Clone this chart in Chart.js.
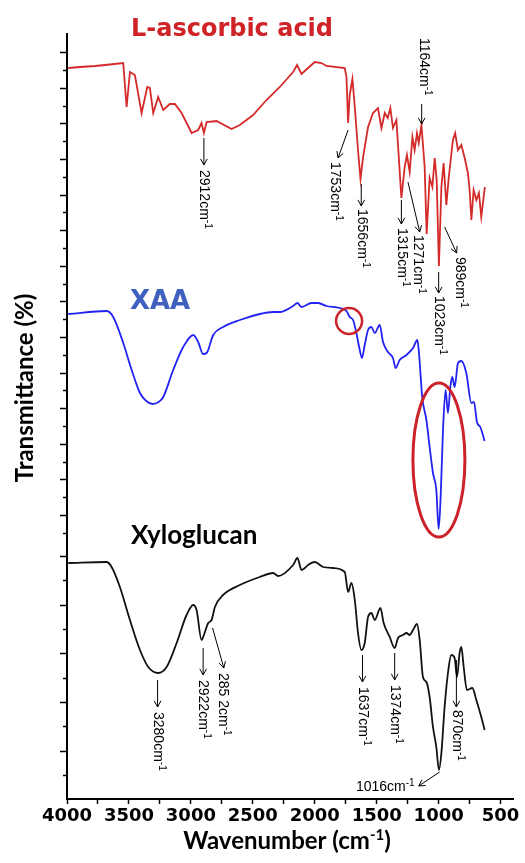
<!DOCTYPE html>
<html>
<head>
<meta charset="utf-8">
<title>FTIR spectra</title>
<script src="https://cdn.jsdelivr.net/npm/chart.js@4.4.1/dist/chart.umd.min.js"></script>
<style>
    body { margin: 0; background: #fff; }
    canvas { display: block; }
</style>
</head>
<body>
<canvas id="ftirChart" width="525" height="863"></canvas>
<script>
// Spectra: wavenumber (cm-1) and transmittance (stacked, arbitrary offset units)

// L-ascorbic acid (top, red)
const ascorbicWn = [3990, 3895, 3774, 3653, 3546, 3519, 3492, 3452, 3398, 3352, 3331, 3304, 3264, 3223, 3170, 3129, 3075, 2994, 2941, 2914,
    2895, 2873, 2793, 2672, 2605, 2498, 2390, 2282, 2175, 2143, 2107, 2054, 2000, 1946, 1906, 1758, 1744, 1731, 1718, 1696,
    1677, 1651, 1631, 1610, 1570, 1530, 1490, 1462, 1435, 1411, 1390, 1369, 1341, 1301, 1274, 1256, 1234, 1212, 1194, 1175,
    1161, 1139, 1113, 1097, 1073, 1051, 1032, 1016, 998, 978, 960, 938, 919, 885, 867, 844, 817, 790, 764, 750,
    736, 718, 696, 675, 656, 637, 627];
const ascorbicT = [731, 732, 733, 734.5, 736, 692, 727, 724, 686, 712, 711, 686, 702, 689, 695, 695, 686, 666, 669, 676,
    666, 677, 678, 670, 674, 684, 699, 712, 727, 734, 725, 731, 737, 736, 733, 731, 722, 676, 704, 720,
    692, 649, 620, 642, 672, 686, 691, 671, 686, 681, 691, 671, 679, 601, 632, 644, 627, 662, 649, 666,
    656, 674, 632, 565, 621, 612, 641, 619, 533, 612, 636, 594, 621, 659, 666, 649, 654, 641, 626, 609,
    579, 609, 599, 606, 582, 602, 612];

// XAA (middle, blue)
const xaaWn = [3990, 3680, 3627, 3546, 3478, 3411, 3360, 3310, 3260, 3223, 3143, 3062, 2981, 2941, 2901, 2873, 2820, 2740, 2605, 2444,
    2336, 2282, 2175, 2140, 2107, 2027, 1973, 1906, 1798, 1744, 1718, 1691, 1664, 1637, 1619, 1597, 1570, 1543, 1516, 1476,
    1449, 1409, 1369, 1347, 1315, 1260, 1207, 1172, 1159, 1132, 1099, 1073, 1046, 1019, 1000, 984, 965, 944, 925, 906,
    890, 871, 844, 817, 777, 736, 715, 691, 664, 629];
const xaaT = [485, 488, 482, 456, 429, 406, 398, 395, 397, 402, 429, 452, 464, 457, 445, 446, 464, 472, 479, 485,
    487, 487, 493, 496, 492, 496, 496, 493, 491, 488, 482, 479, 466, 449, 441, 454, 469, 472, 466, 474,
    457, 447, 441, 431, 439, 444, 451, 459, 446, 401, 379, 352, 326, 309, 270, 302, 369, 409, 386, 412,
    422, 412, 436, 438, 426, 396, 397, 377, 372, 358];

// Xyloglucan (bottom, black)
const xyloWn = [3990, 3680, 3640, 3573, 3492, 3411, 3344, 3264, 3196, 3115, 3035, 2981, 2954, 2914, 2895, 2860, 2833, 2806, 2740, 2605,
    2444, 2336, 2296, 2175, 2140, 2107, 2054, 2000, 1933, 1852, 1758, 1731, 1704, 1677, 1651, 1624, 1597, 1570, 1543, 1516,
    1470, 1444, 1395, 1355, 1328, 1288, 1260, 1234, 1207, 1175, 1153, 1127, 1099, 1073, 1046, 1019, 998, 978, 952, 925,
    898, 871, 852, 831, 817, 798, 772, 728, 696, 656, 629];
const xyloT = [236, 237, 232, 212, 179, 149, 132, 126, 132, 156, 184, 194, 189, 159, 164, 176, 179, 192, 204, 214,
    222, 226, 223, 234, 241, 229, 234, 237, 232, 231, 227, 207, 216, 199, 166, 149, 156, 182, 186, 179,
    191, 176, 162, 151, 161, 164, 166, 164, 169, 175, 159, 122, 117, 102, 72, 52, 29, 46, 92, 126,
    144, 141, 122, 146, 152, 132, 109, 111, 99, 82, 69];

const wavenumberTicks = [4000, 3750, 3500, 3250, 3000, 2750, 2500, 2250, 2000, 1750, 1500, 1250, 1000, 750, 500];

const seriesNames = ['L-ascorbic acid', 'XAA', 'Xyloglucan'];
const seriesColors = ['#d42a2a', '#2222f2', '#111111'];

// Peak labels: arrow tail, arrow head, text start -- as [wavenumber, transmittance]
const peakNotes = [
    { text: '2912', from: [2895, 661], to: [2895, 634], at: [2895, 629] },
    { text: '1753', from: [1731, 669], to: [1812, 641], at: [1839, 637] },
    { text: '1656', from: [1625, 615], to: [1625, 593], at: [1621, 590] },
    { text: '1315', from: [1301, 599], to: [1301, 575], at: [1298, 571] },
    { text: '1271', from: [1248, 617], to: [1153, 567], at: [1169, 564] },
    { text: '1164', from: [1137, 695], to: [1137, 675], at: [1121, 761] },
    { text: '1023', from: [1000, 527], to: [1000, 506], at: [1000, 503] },
    { text: '989', from: [952, 572], to: [855, 546], at: [831, 542] },
    { text: '3280', from: [3269, 119], to: [3269, 92], at: [3269, 87] },
    { text: '2922', from: [2901, 151], to: [2901, 124], at: [2901, 119] },
    { text: '285 2', from: [2825, 171], to: [2734, 131], at: [2742, 126] },
    { text: '1637', from: [1615, 144], to: [1615, 117], at: [1615, 112] },
    { text: '1374', from: [1355, 146], to: [1355, 119], at: [1355, 114] },
    { text: '870', from: [857, 139], to: [857, 92], at: [857, 89] },
    { text: '1016', from: [992, 27], to: [1161, 13], at: [1194, 12], flat: true }
];

function toPoints(wn, t) {
    return wn.map((w, i) => ({ x: w, y: t[i] }));
}

const NOTE_FONT = '14px "Liberation Sans", Arial, sans-serif';
const NOTE_SUP = '10px "Liberation Sans", Arial, sans-serif';

// "xxxxcm-1" with a raised -1; rotated labels read top to bottom
function drawPeakText(ctx, text, px, py, flat) {
    ctx.save();
    ctx.translate(px, py);
    if (!flat) ctx.rotate(Math.PI / 2);
    ctx.fillStyle = '#000';
    ctx.textBaseline = 'middle';
    ctx.textAlign = 'left';
    const main = text + 'cm';
    ctx.font = NOTE_FONT;
    const w = ctx.measureText(main).width;
    ctx.font = NOTE_SUP;
    const sw = ctx.measureText('-1').width;
    const x0 = flat ? -(w + sw) : 0;
    ctx.font = NOTE_FONT;
    ctx.fillText(main, x0, 0);
    ctx.font = NOTE_SUP;
    ctx.fillText('-1', x0 + w, -4);
    ctx.restore();
}

function drawArrow(ctx, x1, y1, x2, y2) {
    const ang = Math.atan2(y2 - y1, x2 - x1);
    const len = 7;
    ctx.beginPath();
    ctx.moveTo(x1, y1);
    ctx.lineTo(x2, y2);
    ctx.moveTo(x2 - len * Math.cos(ang - 0.5), y2 - len * Math.sin(ang - 0.5));
    ctx.lineTo(x2, y2);
    ctx.lineTo(x2 - len * Math.cos(ang + 0.5), y2 - len * Math.sin(ang + 0.5));
    ctx.stroke();
}

const decorPlugin = {
    id: 'ftirDecor',
    afterDraw(chart) {
        const { ctx, chartArea, scales: { x, y } } = chart;
        const px = (w) => x.getPixelForValue(w);
        const py = (t) => y.getPixelForValue(t);

        ctx.save();

        // y-axis tick marks, alternating long / short
        ctx.strokeStyle = '#000';
        ctx.lineWidth = 1.5;
        y.ticks.forEach((tk, i) => {
            const yy = Math.round(py(tk.value)) + 0.5;
            const len = i % 2 ? 7 : 4;
            ctx.beginPath();
            ctx.moveTo(chartArea.left - len, yy);
            ctx.lineTo(chartArea.left, yy);
            ctx.stroke();
        });

        // series names
        ctx.textAlign = 'left';
        ctx.textBaseline = 'alphabetic';
        ctx.fillStyle = '#cf2328';
        ctx.font = 'bold 24px "DejaVu Sans", sans-serif';
        ctx.fillText(seriesNames[0], px(3484), py(763));
        ctx.fillStyle = '#3f60bf';
        ctx.font = 'bold 26px "DejaVu Sans", sans-serif';
        ctx.fillText(seriesNames[1], px(3492), py(490));
        ctx.fillStyle = '#000';
        ctx.font = 'bold 26px Lato, sans-serif';
        ctx.fillText(seriesNames[2], px(3484), py(255));

        // red highlight circle and ellipse on the XAA trace
        ctx.strokeStyle = '#cc2229';
        ctx.lineWidth = 2.5;
        ctx.beginPath();
        ctx.arc(px(1723), py(478), 13, 0, Math.PI * 2);
        ctx.stroke();
        ctx.lineWidth = 3;
        ctx.beginPath();
        ctx.ellipse(px(998), py(339), 26, 77, 0, 0, Math.PI * 2);
        ctx.stroke();

        // peak arrows and labels
        ctx.strokeStyle = '#000';
        ctx.lineWidth = 1;
        peakNotes.forEach((n) => {
            drawArrow(ctx, px(n.from[0]), py(n.from[1]), px(n.to[0]), py(n.to[1]));
            drawPeakText(ctx, n.text, px(n.at[0]), py(n.at[1]), n.flat);
        });

        // axis titles
        ctx.fillStyle = '#000';
        ctx.save();
        ctx.translate(chartArea.left - 34, 388);
        ctx.rotate(-Math.PI / 2);
        ctx.textAlign = 'center';
        ctx.textBaseline = 'alphabetic';
        ctx.font = 'bold 24px Lato, sans-serif';
        ctx.fillText('Transmittance (%)', 0, 0);
        ctx.restore();

        const tFont = 'bold 24px Lato, sans-serif';
        const sFont = 'bold 15px Lato, sans-serif';
        ctx.font = tFont;
        const a = 'Wavenumber (cm';
        const wa = ctx.measureText(a).width;
        const wc = ctx.measureText(')').width;
        ctx.font = sFont;
        const wb = ctx.measureText('-1').width;
        const sx = 287 - (wa + wb + wc) / 2;
        const base = 849;
        ctx.textAlign = 'left';
        ctx.font = tFont;
        ctx.fillText(a, sx, base);
        ctx.font = sFont;
        ctx.fillText('-1', sx + wa, base - 9);
        ctx.font = tFont;
        ctx.fillText(')', sx + wa + wb, base);

        ctx.restore();
    }
};

const ctx = document.getElementById('ftirChart').getContext('2d');

const chart = new Chart(ctx, {
    type: 'line',
    data: {
        datasets: [
            {
                label: seriesNames[0],
                data: toPoints(ascorbicWn, ascorbicT),
                borderColor: seriesColors[0],
                borderWidth: 1.8,
                pointRadius: 0,
                tension: 0
            },
            {
                label: seriesNames[1],
                data: toPoints(xaaWn, xaaT),
                borderColor: seriesColors[1],
                borderWidth: 1.8,
                pointRadius: 0,
                cubicInterpolationMode: 'monotone'
            },
            {
                label: seriesNames[2],
                data: toPoints(xyloWn, xyloT),
                borderColor: seriesColors[2],
                borderWidth: 1.8,
                pointRadius: 0,
                cubicInterpolationMode: 'monotone'
            }
        ]
    },
    options: {
        responsive: false,
        animation: false,
        events: [],
        layout: { padding: { top: 34, right: 12, left: 0, bottom: 0 } },
        plugins: {
            legend: { display: false },
            tooltip: { enabled: false }
        },
        scales: {
            x: {
                type: 'linear',
                reverse: true,
                min: 400,
                max: 4000,
                afterBuildTicks: (scale) => {
                    scale.ticks = wavenumberTicks.map(v => ({ value: v }));
                },
                afterFit: (scale) => { scale.height = 64; },
                ticks: {
                    autoSkip: false,
                    maxRotation: 0,
                    padding: 2,
                    color: '#000',
                    font: { family: '"DejaVu Sans", sans-serif', size: 18, weight: 'bold' },
                    callback: (v) => (v % 500 === 0 ? String(v) : '')
                },
                grid: {
                    drawOnChartArea: false,
                    drawTicks: true,
                    tickLength: 5,
                    tickWidth: 1.5,
                    tickColor: '#000'
                },
                border: { display: true, color: '#000', width: 2 }
            },
            y: {
                type: 'linear',
                min: 0,
                max: 765,
                afterBuildTicks: (scale) => {
                    // tick marks are unevenly spaced in the figure: wider under the bottom trace
                    const ticks = [];
                    for (let i = 0; i < 10; i++) ticks.push({ value: 24 + i * 24.33 });
                    for (let i = 0; i < 28; i++) ticks.push({ value: 266.3 + i * 17.8 });
                    scale.ticks = ticks;
                },
                afterFit: (scale) => { scale.width = 67; },
                ticks: { display: false },
                grid: { display: false },
                border: { display: true, color: '#000', width: 2 }
            }
        }
    },
    plugins: [decorPlugin]
});
</script>
</body>
</html>
